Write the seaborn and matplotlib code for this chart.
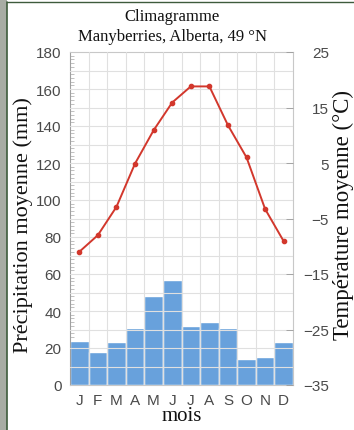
import numpy as np
import pandas as pd
import matplotlib
matplotlib.use("Agg")
import matplotlib.pyplot as plt
import seaborn as sns
from matplotlib.ticker import FixedLocator, MultipleLocator
from matplotlib.patches import Rectangle
from matplotlib.lines import Line2D

# Monthly climate normals, Manyberries (Alberta)
months = ["janvier", "février", "mars", "avril", "mai", "juin",
          "juillet", "août", "septembre", "octobre", "novembre", "décembre"]
month_letters = ["J", "F", "M", "A", "M", "J", "J", "A", "S", "O", "N", "D"]
precip_mm = [24, 18, 23, 31, 48, 57, 32, 34, 31, 14, 15, 23]
temp_c = [-11.0, -8.0, -2.9, 4.9, 10.9, 15.9, 18.8, 18.8, 11.8, 6.0, -3.3, -9.1]
precip_ticks = [0, 20, 40, 60, 80, 100, 120, 140, 160, 180]
temp_ticks = [25, 15, 5, -5, -15, -25, -35]

df = pd.DataFrame({"mois": months, "precip": precip_mm, "temp": temp_c})

sns.set_theme(style="white")
plt.rcParams["font.family"] = ["Liberation Sans", "DejaVu Sans"]
SERIF = ["Liberation Serif", "DejaVu Serif"]

W, H = 354, 431
fig = plt.figure(figsize=(W / 100, H / 100), dpi=100)
fig.patch.set_facecolor("white")

# page edge on the left and top
fig.patches.append(Rectangle((0, 0), 6.5 / W, 1, transform=fig.transFigure,
                             facecolor="#a8aca4", edgecolor="none", zorder=0))
fig.lines.append(Line2D([7.2 / W, 7.2 / W], [0, 1 - 3 / H], transform=fig.transFigure,
                        color="#3e5b3c", lw=1.2))
fig.lines.append(Line2D([7.2 / W, 1], [1 - 3 / H, 1 - 3 / H], transform=fig.transFigure,
                        color="#3e5b3c", lw=1.0))

ax = fig.add_axes([70 / W, (H - 386) / H, (293 - 70) / W, (386 - 53) / H])
sns.barplot(data=df, x="mois", y="precip", order=months, color="#68a1dc",
            saturation=1, width=1.0, edgecolor="white", linewidth=1.0,
            ax=ax, zorder=2)

ax.set_xlim(-0.5, 11.5)
ax.set_ylim(0, 180)
ax.set_xlabel("")
ax.set_ylabel("")

# grid: every 10 mm and at month boundaries, drawn over the bars
for v in range(10, 180, 10):
    ax.axhline(v, color="#e0e0e0", lw=0.8, zorder=3)
for b in np.arange(0.5, 11.5, 1.0):
    ax.axvline(b, color="#e0e0e0", lw=0.8, zorder=3)

ax.yaxis.set_major_locator(FixedLocator(precip_ticks))
ax.yaxis.set_minor_locator(MultipleLocator(2))
ax.tick_params(axis="y", which="major", direction="in", length=4, width=0.6,
               color="#9a9a9a", pad=6, labelsize=11, labelcolor="#4a4a4a")
ax.tick_params(axis="y", which="minor", direction="in", length=3, width=0.5,
               color="#a8a8a8")
ax.set_xticks(range(12))
ax.set_xticklabels(month_letters)
ax.tick_params(axis="x", length=0, pad=6, labelsize=11, labelcolor="#4a4a4a")
for s in ax.spines.values():
    s.set_color("#c8c8c8")
    s.set_linewidth(0.8)
ax.spines["left"].set_color("#a0a0a0")

ax2 = ax.twinx()
sns.pointplot(data=df, x="mois", y="temp", order=months, color="#d2372c",
              markers="o", markersize=3, linewidth=1.4, ax=ax2, zorder=5)
ax2.set_xlim(-0.5, 11.5)
ax2.set_ylim(-35, 25)
ax2.set_xlabel("")
ax2.set_ylabel("")
ax2.yaxis.set_major_locator(FixedLocator(temp_ticks))
ax2.set_yticklabels([f"{t}".replace("-", "\u2212") for t in temp_ticks])
ax2.tick_params(axis="y", direction="in", length=5, width=0.6, color="#9a9a9a",
                pad=26, labelsize=11, labelcolor="#4a4a4a")
for s in ax2.spines.values():
    s.set_visible(False)

fig.canvas.draw()
for lbl in ax2.get_yticklabels():
    lbl.set_horizontalalignment("right")

fig.text(172 / W, 1 - 17 / H, "Climagramme", ha="center", va="center",
         family=SERIF, fontsize=12, color="#111111")
fig.text(172 / W, 1 - 37 / H, "Manyberries, Alberta, 49\u00a0°N", ha="center",
         va="center", family=SERIF, fontsize=12, color="#111111")
fig.text(23 / W, 1 - 225 / H, "Précipitation moyenne (mm)", rotation=90,
         ha="center", va="center", family=SERIF, fontsize=16, color="#111111")
fig.text(343 / W, 1 - 215 / H, "Température moyenne (°C)", rotation=90,
         ha="center", va="center", family=SERIF, fontsize=16.5, color="#111111")
fig.text(182 / W, 1 - 417 / H, "mois", ha="center", va="center",
         family=SERIF, fontsize=15, color="#111111")

fig.savefig("out.png", dpi=100)
